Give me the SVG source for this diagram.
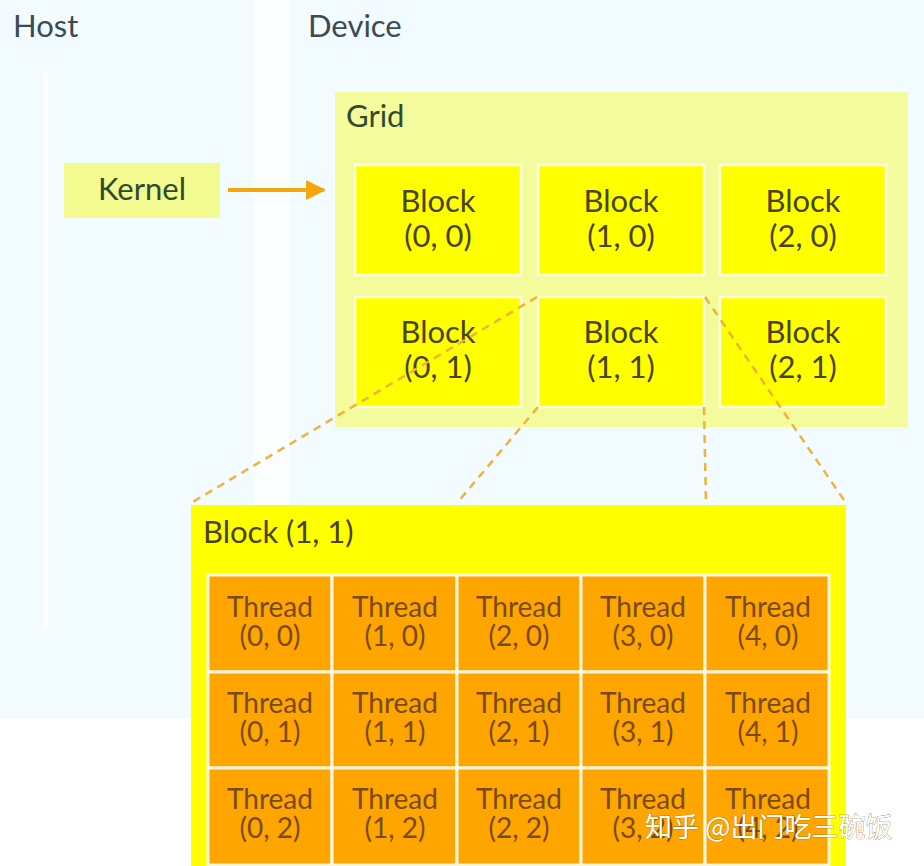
<svg xmlns="http://www.w3.org/2000/svg" width="924" height="866" viewBox="0 0 924 866">
<defs>
<style>
text{font-family:Lato,"Noto Sans","Liberation Sans",sans-serif}
.title{font-size:31px;fill:#3c4a56}
.lbl{font-size:31px;fill:#2f4a2e}
.blk{fill:#ffff00;stroke:#fdfde0;stroke-width:2.5}
.bt{font-size:31px;fill:#4a4212;text-anchor:middle}
.thr{fill:#ffa500;stroke:#fff7e0;stroke-width:3}
.tt{font-size:28px;fill:#7a4a12;text-anchor:middle}
.dash{stroke:#f0b23a;stroke-width:2.5;stroke-dasharray:8 6;fill:none}
.wm{font-family:"Noto Sans CJK SC","Noto Sans",sans-serif;font-size:27px;fill:#ffffff;stroke:#8a6a30;stroke-width:0.6;paint-order:stroke}
</style>
<marker id="ah" viewBox="0 0 10 10" refX="9" refY="5" markerWidth="5" markerHeight="5" orient="auto" markerUnits="strokeWidth">
<path d="M0,0 L10,5 L0,10 z" fill="#f5a60a"/>
</marker>
</defs>
<rect x="0" y="0" width="924" height="866" fill="#ffffff"/>
<g id="host">
<rect x="0" y="0" width="253" height="718" fill="#f2fbfd"/>
<rect x="253" y="0" width="37" height="718" fill="#fbfefe"/>
<line x1="46" y1="72" x2="46" y2="630" stroke="#ffffff" stroke-width="5" opacity="0.9"/>
<text class="title" x="13" y="37">Host</text>
</g>
<g id="device">
<rect x="290" y="0" width="634" height="718" fill="#f2fbfd"/>
<text class="title" x="308" y="37">Device</text>
</g>
<g id="kernel">
<rect x="64" y="163" width="156" height="55" fill="#f2fa90"/>
<text class="lbl" x="142" y="200" text-anchor="middle">Kernel</text>
</g>
<g id="grid">
<rect x="335" y="92" width="573" height="335" fill="#f3fb9c"/>
<text class="lbl" x="346" y="127">Grid</text>
</g>
<g id="block-0-0"><rect class="blk" x="355" y="165" width="166" height="110"/><text class="bt" x="438" y="212">Block</text><text class="bt" x="438" y="247">(0, 0)</text></g>
<g id="block-1-0"><rect class="blk" x="538" y="165" width="166" height="110"/><text class="bt" x="621" y="212">Block</text><text class="bt" x="621" y="247">(1, 0)</text></g>
<g id="block-2-0"><rect class="blk" x="720" y="165" width="166" height="110"/><text class="bt" x="803" y="212">Block</text><text class="bt" x="803" y="247">(2, 0)</text></g>
<g id="block-0-1"><rect class="blk" x="355" y="297" width="166" height="110"/><text class="bt" x="438" y="343">Block</text><text class="bt" x="438" y="378">(0, 1)</text></g>
<g id="block-1-1"><rect class="blk" x="538" y="297" width="166" height="110"/><text class="bt" x="621" y="343">Block</text><text class="bt" x="621" y="378">(1, 1)</text></g>
<g id="block-2-1"><rect class="blk" x="720" y="297" width="166" height="110"/><text class="bt" x="803" y="343">Block</text><text class="bt" x="803" y="378">(2, 1)</text></g>
<g id="connectors">
<line x1="228" y1="190" x2="324" y2="190" stroke="#f5a60a" stroke-width="4" marker-end="url(#ah)"/>
<line class="dash" x1="537" y1="297" x2="191" y2="503"/>
<line class="dash" x1="538" y1="407" x2="457" y2="503"/>
<line class="dash" x1="704" y1="407" x2="706" y2="503"/>
<line class="dash" x1="705" y1="297" x2="846" y2="503"/>
</g>
<g id="block-detail">
<rect x="191" y="505" width="655" height="361" fill="#ffff00"/>
<text x="203" y="543" font-size="31" fill="#4a4212">Block (1, 1)</text>
</g>
<g id="threads">
<g id="t-0-0"><rect class="thr" x="208" y="575" width="124" height="97"/><text class="tt" x="270" y="617">Thread</text><text class="tt" x="270" y="646">(0, 0)</text></g>
<g id="t-1-0"><rect class="thr" x="332" y="575" width="125" height="97"/><text class="tt" x="395" y="617">Thread</text><text class="tt" x="395" y="646">(1, 0)</text></g>
<g id="t-2-0"><rect class="thr" x="457" y="575" width="124" height="97"/><text class="tt" x="519" y="617">Thread</text><text class="tt" x="519" y="646">(2, 0)</text></g>
<g id="t-3-0"><rect class="thr" x="581" y="575" width="124" height="97"/><text class="tt" x="643" y="617">Thread</text><text class="tt" x="643" y="646">(3, 0)</text></g>
<g id="t-4-0"><rect class="thr" x="705" y="575" width="124" height="97"/><text class="tt" x="768" y="617">Thread</text><text class="tt" x="768" y="646">(4, 0)</text></g>
<g id="t-0-1"><rect class="thr" x="208" y="672" width="124" height="96"/><text class="tt" x="270" y="713">Thread</text><text class="tt" x="270" y="742">(0, 1)</text></g>
<g id="t-1-1"><rect class="thr" x="332" y="672" width="125" height="96"/><text class="tt" x="395" y="713">Thread</text><text class="tt" x="395" y="742">(1, 1)</text></g>
<g id="t-2-1"><rect class="thr" x="457" y="672" width="124" height="96"/><text class="tt" x="519" y="713">Thread</text><text class="tt" x="519" y="742">(2, 1)</text></g>
<g id="t-3-1"><rect class="thr" x="581" y="672" width="124" height="96"/><text class="tt" x="643" y="713">Thread</text><text class="tt" x="643" y="742">(3, 1)</text></g>
<g id="t-4-1"><rect class="thr" x="705" y="672" width="124" height="96"/><text class="tt" x="768" y="713">Thread</text><text class="tt" x="768" y="742">(4, 1)</text></g>
<g id="t-0-2"><rect class="thr" x="208" y="768" width="124" height="97"/><text class="tt" x="270" y="809">Thread</text><text class="tt" x="270" y="838">(0, 2)</text></g>
<g id="t-1-2"><rect class="thr" x="332" y="768" width="125" height="97"/><text class="tt" x="395" y="809">Thread</text><text class="tt" x="395" y="838">(1, 2)</text></g>
<g id="t-2-2"><rect class="thr" x="457" y="768" width="124" height="97"/><text class="tt" x="519" y="809">Thread</text><text class="tt" x="519" y="838">(2, 2)</text></g>
<g id="t-3-2"><rect class="thr" x="581" y="768" width="124" height="97"/><text class="tt" x="643" y="809">Thread</text><text class="tt" x="643" y="838">(3, 2)</text></g>
<g id="t-4-2"><rect class="thr" x="705" y="768" width="124" height="97"/><text class="tt" x="768" y="809">Thread</text><text class="tt" x="768" y="838">(4, 2)</text></g>
</g>
<g id="watermark">
<text class="wm" x="645" y="837">知乎 @出门吃三碗饭</text>
</g>
</svg>
